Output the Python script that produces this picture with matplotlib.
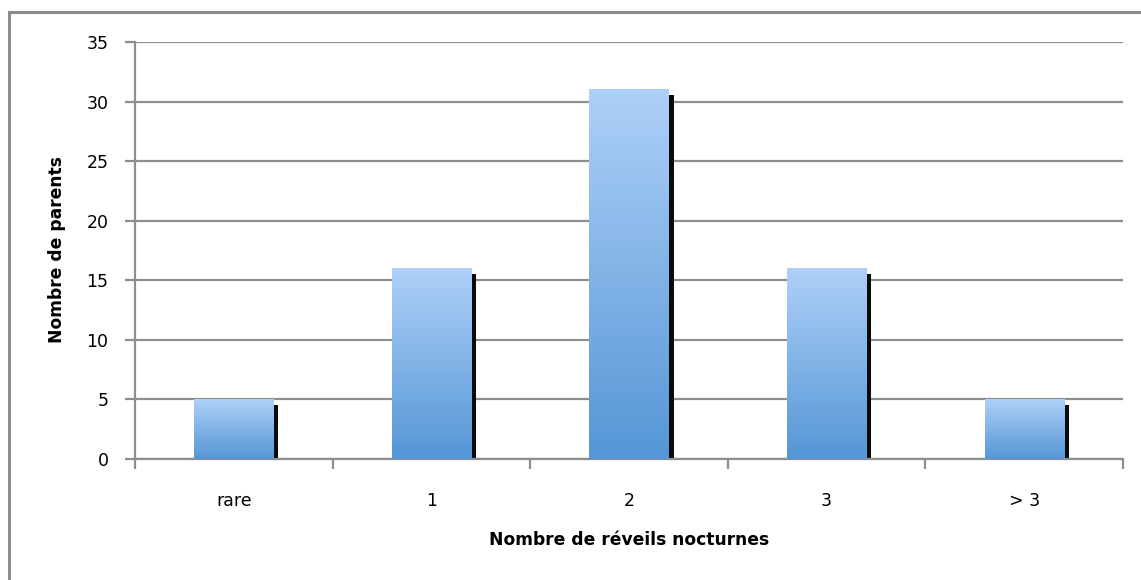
import matplotlib
matplotlib.use("Agg")
import matplotlib.pyplot as plt
import numpy as np
from matplotlib.colors import LinearSegmentedColormap
from matplotlib.patches import Rectangle

categories = ["rare", "1", "2", "3", "> 3"]
values = [5, 16, 31, 16, 5]
yticks = [0, 5, 10, 15, 20, 25, 30, 35]
xlabel = "Nombre de réveils nocturnes"
ylabel = "Nombre de parents"

plt.rcParams['font.family'] = ['DejaVu Sans']

W, H = 1141, 580
fig = plt.figure(figsize=(W / 100, H / 100), dpi=100)
fig.patch.set_facecolor("white")

# outer border (top and left visible; right and bottom run off the image)
fig.add_artist(Rectangle((9 / W, -0.05), 1.2, (H - 12) / H + 0.05,
                         transform=fig.transFigure, fill=False,
                         edgecolor="#8c8c8c", linewidth=2.2, zorder=0))

left, right, top, bottom = 135, 1123, 42, 459
ax = fig.add_axes([left / W, 1 - bottom / H, (right - left) / W, (bottom - top) / H])

n = len(categories)
x = np.arange(n)
bw = 0.40

cmap = LinearSegmentedColormap.from_list("g", ["#5596d6", "#aed0f8"])
grad = np.linspace(0, 1, 256).reshape(-1, 1)

bars = ax.bar(x, values, width=bw, color="none", edgecolor="none", zorder=3)
sw = 0.026
for b in bars:
    x0 = b.get_x()
    w = b.get_width()
    h = b.get_height()
    # shadow
    ax.add_patch(Rectangle((x0 + w, 0), sw, h - 0.45, facecolor="#0a0a0a",
                           edgecolor="none", zorder=2))
    ax.imshow(grad, extent=(x0, x0 + w, 0, h), origin="lower", cmap=cmap,
              aspect="auto", zorder=3, interpolation="bilinear")
ax.set_xlim(-0.5, n - 0.5)
ax.set_ylim(0, 35)

# grid
ax.set_yticks(yticks)
ax.yaxis.grid(True, color="#8e8e8e", linewidth=1.6, zorder=1)
ax.set_axisbelow(True)

for s in ["top", "right"]:
    ax.spines[s].set_visible(False)
ax.spines["left"].set_color("#8e8e8e")
ax.spines["left"].set_linewidth(1.6)
ax.spines["bottom"].set_color("#8e8e8e")
ax.spines["bottom"].set_linewidth(1.6)

ax.set_xticks(x)
ax.set_xticklabels(categories)
ax.set_xticks(np.arange(-0.5, n), minor=True)
ax.tick_params(axis="x", which="major", length=0, pad=24, labelsize=12.5)
ax.tick_params(axis="x", which="minor", length=7, width=1.6, color="#8e8e8e", direction="out")
ax.tick_params(axis="y", length=7, width=1.6, color="#8e8e8e", direction="out",
               pad=12, labelsize=12.5)

fig.text((left + right) / 2 / W, 1 - 540 / H, xlabel, ha="center", va="center",
         fontsize=12.3, fontweight="bold")
fig.text(57 / W, 1 - 250 / H, ylabel, ha="center", va="center",
         rotation=90, fontsize=12.3, fontweight="bold")

fig.savefig("out.png", dpi=100, facecolor="white")
